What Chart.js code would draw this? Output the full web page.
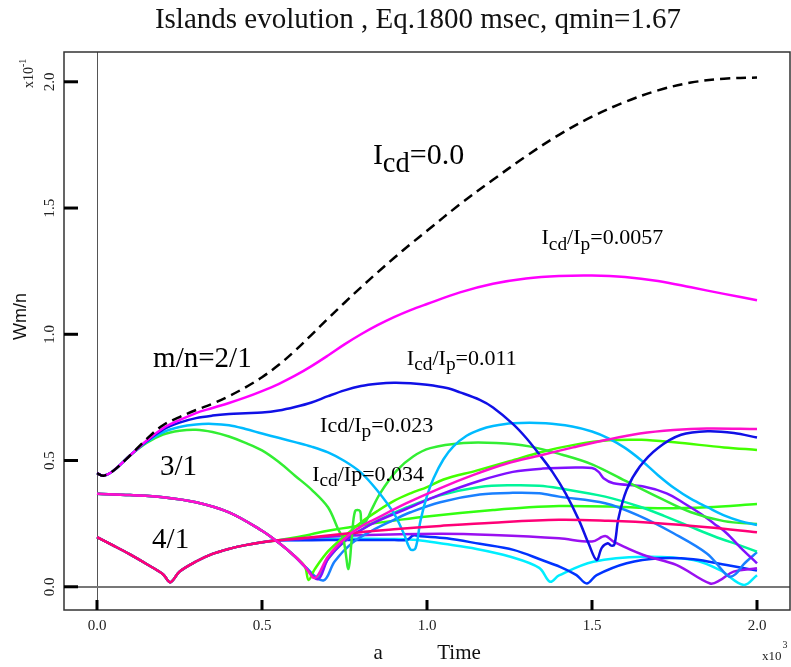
<!DOCTYPE html>
<html>
<head>
<meta charset="utf-8">
<title>Islands evolution</title>
<script src="https://cdn.jsdelivr.net/npm/chart.js@4.4.0/dist/chart.umd.min.js"></script>
<style>
  html, body { margin: 0; padding: 0; background: #fff; }
  #wrap { width: 791px; height: 667px; position: relative; }
</style>
</head>
<body>
<div id="wrap"><canvas id="chart"></canvas></div>
<script>
// time in units of 10^3, Wm/n in units of 10^-1

// m/n = 2/1
const t21_icd0 = [0, 0.02, 0.05, 0.1, 0.15, 0.2, 0.25, 0.3, 0.35, 0.4, 0.45, 0.5, 0.55, 0.6, 0.65, 0.7, 0.75, 0.8, 0.85, 0.9, 0.95, 1.0, 1.1, 1.2, 1.3, 1.4, 1.5, 1.6, 1.7, 1.8, 1.9, 2.0];
const w21_icd0 = [0.45, 0.44, 0.46, 0.52, 0.585, 0.64, 0.672, 0.70, 0.725, 0.755, 0.79, 0.83, 0.878, 0.935, 0.998, 1.062, 1.125, 1.186, 1.245, 1.302, 1.357, 1.41, 1.515, 1.612, 1.705, 1.79, 1.862, 1.92, 1.966, 1.997, 2.012, 2.017];

const t21_0057 = [0, 0.02, 0.05, 0.1, 0.15, 0.2, 0.25, 0.3, 0.35, 0.4, 0.45, 0.5, 0.55, 0.6, 0.65, 0.7, 0.75, 0.8, 0.85, 0.9, 0.95, 1.0, 1.1, 1.2, 1.3, 1.4, 1.5, 1.6, 1.7, 1.8, 1.9, 2.0];
const w21_0057 = [0.45, 0.44, 0.46, 0.52, 0.578, 0.628, 0.66, 0.688, 0.708, 0.728, 0.75, 0.775, 0.803, 0.836, 0.874, 0.916, 0.96, 1.0, 1.036, 1.068, 1.096, 1.12, 1.166, 1.2, 1.221, 1.231, 1.233, 1.227, 1.211, 1.186, 1.16, 1.135];

const t21_011 = [0, 0.02, 0.05, 0.1, 0.15, 0.2, 0.25, 0.3, 0.35, 0.4, 0.45, 0.5, 0.55, 0.6, 0.65, 0.7, 0.75, 0.8, 0.85, 0.9, 0.95, 1.0, 1.06, 1.1, 1.16, 1.2, 1.26, 1.3, 1.34, 1.38, 1.42, 1.46, 1.49, 1.514, 1.53, 1.548, 1.558, 1.568, 1.58, 1.605, 1.645, 1.7, 1.77, 1.85, 1.93, 2.0];
const w21_011 = [0.45, 0.44, 0.46, 0.52, 0.576, 0.622, 0.65, 0.668, 0.678, 0.684, 0.687, 0.69, 0.698, 0.712, 0.73, 0.755, 0.778, 0.795, 0.804, 0.808, 0.806, 0.80, 0.787, 0.77, 0.74, 0.71, 0.645, 0.59, 0.525, 0.455, 0.37, 0.265, 0.17, 0.106, 0.155, 0.172, 0.163, 0.168, 0.27, 0.384, 0.476, 0.55, 0.602, 0.616, 0.609, 0.591];

const t21_023 = [0, 0.02, 0.05, 0.1, 0.15, 0.2, 0.25, 0.3, 0.35, 0.4, 0.45, 0.5, 0.55, 0.6, 0.65, 0.7, 0.75, 0.8, 0.85, 0.9, 0.93, 0.95, 0.965, 0.98, 1.0, 1.02, 1.05, 1.08, 1.12, 1.16, 1.2, 1.26, 1.36, 1.44, 1.5, 1.55, 1.6, 1.65, 1.7, 1.75, 1.8, 1.85, 1.9, 1.95, 2.0];
const w21_023 = [0.45, 0.44, 0.46, 0.52, 0.573, 0.612, 0.633, 0.643, 0.645, 0.64, 0.625, 0.607, 0.59, 0.573, 0.555, 0.532, 0.498, 0.452, 0.38, 0.29, 0.21, 0.148, 0.152, 0.26, 0.36, 0.43, 0.505, 0.556, 0.598, 0.622, 0.637, 0.648, 0.648, 0.635, 0.615, 0.588, 0.55, 0.50, 0.442, 0.39, 0.348, 0.315, 0.283, 0.26, 0.245];

const t21_034 = [0, 0.02, 0.05, 0.1, 0.15, 0.2, 0.25, 0.3, 0.35, 0.4, 0.45, 0.5, 0.55, 0.6, 0.65, 0.7, 0.73, 0.747, 0.762, 0.772, 0.782, 0.797, 0.802, 0.815, 0.83, 0.858, 0.908, 0.958, 1.01, 1.11, 1.21, 1.31, 1.41, 1.5, 1.6, 1.7, 1.8, 1.9, 2.0];
const w21_034 = [0.45, 0.44, 0.46, 0.52, 0.57, 0.603, 0.618, 0.622, 0.613, 0.595, 0.57, 0.54, 0.495, 0.44, 0.385, 0.315, 0.23, 0.185, 0.07, 0.19, 0.30, 0.30, 0.252, 0.26, 0.30, 0.37, 0.46, 0.516, 0.549, 0.569, 0.569, 0.556, 0.523, 0.485, 0.42, 0.355, 0.295, 0.26, 0.249];

// m/n = 3/1, shared decay before the first minimum
const t31_head = [0, 0.1, 0.2, 0.3, 0.4, 0.5, 0.55, 0.6, 0.63];
const w31_head = [0.368, 0.363, 0.355, 0.335, 0.295, 0.222, 0.175, 0.12, 0.08];

const t31_a = [0.641, 0.66, 0.7, 0.75, 0.8, 0.85, 0.9, 0.95, 1.0, 1.05, 1.15, 1.25, 1.35, 1.45, 1.55, 1.65, 1.75, 1.9, 2.0];
const w31_a = [0.027, 0.07, 0.14, 0.2, 0.255, 0.3, 0.34, 0.37, 0.395, 0.425, 0.46, 0.497, 0.535, 0.563, 0.58, 0.582, 0.572, 0.552, 0.542];

const t31_b = [0.661, 0.7, 0.757, 0.808, 0.838, 0.938, 1.039, 1.141, 1.242, 1.342, 1.443, 1.544, 1.645, 1.747, 1.848, 2.0];
const w31_b = [0.035, 0.12, 0.198, 0.245, 0.265, 0.331, 0.39, 0.443, 0.488, 0.52, 0.552, 0.582, 0.607, 0.621, 0.627, 0.625];

const t31_c = [0.67, 0.7, 0.75, 0.8, 0.85, 0.94, 1.04, 1.16, 1.26, 1.35, 1.45, 1.5, 1.52, 1.535, 1.565, 1.656, 1.726, 1.78, 1.827, 1.87, 1.908, 1.95, 2.0];
const w31_c = [0.03, 0.11, 0.18, 0.225, 0.26, 0.31, 0.365, 0.42, 0.455, 0.468, 0.472, 0.47, 0.455, 0.43, 0.41, 0.397, 0.37, 0.33, 0.291, 0.25, 0.212, 0.155, 0.093];

const t31_d = [0.665, 0.7, 0.75, 0.8, 0.85, 0.94, 1.04, 1.16, 1.26, 1.34, 1.4, 1.54, 1.645, 1.72, 1.8, 1.87, 1.95, 2.0];
const w31_d = [0.035, 0.11, 0.18, 0.225, 0.262, 0.315, 0.362, 0.395, 0.402, 0.40, 0.39, 0.357, 0.317, 0.28, 0.237, 0.2, 0.163, 0.139];

const t31_e = [0.686, 0.72, 0.77, 0.83, 0.9, 0.95, 1.04, 1.16, 1.26, 1.34, 1.4, 1.54, 1.645, 1.747, 1.848, 1.895, 1.915, 1.935, 1.96, 2.0];
const w31_e = [0.025, 0.1, 0.17, 0.22, 0.265, 0.295, 0.335, 0.365, 0.372, 0.37, 0.357, 0.331, 0.28, 0.212, 0.132, 0.065, 0.04, 0.05, 0.09, 0.137];

// m/n = 4/1, shared part up to where the curves fan out
const t41_head = [0, 0.05, 0.1, 0.15, 0.2, 0.222, 0.25, 0.3, 0.35, 0.4, 0.45, 0.5, 0.55];
const w41_head = [0.197, 0.163, 0.128, 0.09, 0.05, 0.018, 0.06, 0.10, 0.13, 0.15, 0.165, 0.176, 0.184];

const t41_a = [0.6, 0.65, 0.7, 0.8, 0.9, 1.0, 1.1, 1.2, 1.3, 1.4, 1.55, 1.7, 1.85, 2.0];
const w41_a = [0.195, 0.208, 0.222, 0.243, 0.262, 0.278, 0.292, 0.304, 0.314, 0.32, 0.318, 0.311, 0.315, 0.328];

const t41_b = [0.6, 0.7, 0.8, 0.9, 1.04, 1.2, 1.4, 1.55, 1.7, 1.85, 2.0];
const w41_b = [0.19, 0.203, 0.216, 0.228, 0.241, 0.254, 0.265, 0.261, 0.252, 0.236, 0.216];

const t41_c = [0.6, 0.7, 0.8, 1.04, 1.2, 1.4, 1.5, 1.54, 1.565, 1.656, 1.757, 1.858, 1.888, 1.929, 2.0];
const w41_c = [0.188, 0.198, 0.204, 0.21, 0.205, 0.192, 0.179, 0.201, 0.179, 0.126, 0.086, 0.013, 0.026, 0.06, 0.073];

const t41_d = [0.6, 0.7, 0.8, 0.9, 0.94, 0.958, 0.98, 1.06, 1.16, 1.262, 1.35, 1.403, 1.453, 1.484, 1.514, 1.605, 1.706, 1.807, 1.908, 2.0];
const w41_d = [0.184, 0.185, 0.185, 0.185, 0.186, 0.203, 0.2, 0.192, 0.17, 0.146, 0.105, 0.079, 0.046, 0.013, 0.046, 0.093, 0.113, 0.109, 0.086, 0.064];

const t41_e = [0.6, 0.7, 0.8, 0.9, 0.97, 1.05, 1.15, 1.25, 1.34, 1.373, 1.4, 1.504, 1.656, 1.807, 1.888, 1.96, 2.0];
const w41_e = [0.185, 0.19, 0.19, 0.189, 0.185, 0.17, 0.15, 0.12, 0.075, 0.02, 0.045, 0.099, 0.119, 0.106, 0.066, 0.007, 0.046];

// axes
const xTicks = [0, 0.5, 1.0, 1.5, 2.0];
const yTicks = [0, 0.5, 1.0, 1.5, 2.0];
const tickLabel = (v) => v.toFixed(1);

// curve annotations, anchored in data units (left edge, baseline)
const notes = [
  { text: "I_{cd}=0.0", t: 0.836, w: 1.673, size: 30, sub: 0.95 },
  { text: "I_{cd}/I_{p}=0.0057", t: 1.347, w: 1.356, size: 22, sub: 0.88 },
  { text: "m/n=2/1", t: 0.170, w: 0.872, size: 29, sub: 0.88 },
  { text: "I_{cd}/I_{p}=0.011", t: 0.939, w: 0.880, size: 22, sub: 0.88 },
  { text: "Icd/I_{p}=0.023", t: 0.676, w: 0.614, size: 22, sub: 0.88 },
  { text: "I_{cd}/Ip=0.034", t: 0.652, w: 0.420, size: 22, sub: 0.88 },
  { text: "3/1", t: 0.191, w: 0.443, size: 29, sub: 0.88 },
  { text: "4/1", t: 0.167, w: 0.153, size: 29, sub: 0.88 },
];

const SERIF = '"Liberation Serif", "Times New Roman", serif';
const SANS = '"Liberation Sans", Arial, sans-serif';

const line = (label, t, w, color, dash) => ({
  label,
  data: t.map((v, i) => ({ x: v, y: w[i] })),
  borderColor: color,
  borderWidth: 2.5,
  borderDash: dash || [],
  pointRadius: 0,
  fill: false,
  tension: 0.35,
});

// first dataset ends up on top
const datasets = [
  line("2/1 Icd=0", t21_icd0, w21_icd0, "#000000", [10, 6]),
  line("2/1 0.0057", t21_0057, w21_0057, "#ff00ff"),
  line("3/1 b", t31_head.concat(t31_b), w31_head.concat(w31_b), "#ff10cc"),
  line("4/1 b", t41_head.concat(t41_b), w41_head.concat(w41_b), "#ff0077"),
  line("2/1 0.011", t21_011, w21_011, "#1010e6"),
  line("2/1 0.023", t21_023, w21_023, "#00bbff"),
  line("2/1 0.034", t21_034, w21_034, "#33ee33"),
  line("3/1 c", t31_head.concat(t31_c), w31_head.concat(w31_c), "#8010ff"),
  line("3/1 a", t31_head.concat(t31_a), w31_head.concat(w31_a), "#44ff00"),
  line("3/1 d", t31_head.concat(t31_d), w31_head.concat(w31_d), "#00f59a"),
  line("3/1 e", t31_head.concat(t31_e), w31_head.concat(w31_e), "#1a80ff"),
  line("4/1 c", t41_head.concat(t41_c), w41_head.concat(w41_c), "#9a10f0"),
  line("4/1 a", t41_head.concat(t41_a), w41_head.concat(w41_a), "#33ff11"),
  line("4/1 d", t41_head.concat(t41_d), w41_head.concat(w41_d), "#0033ff"),
  line("4/1 e", t41_head.concat(t41_e), w41_head.concat(w41_e), "#00eeff"),
];

// text with _{...} subscripts
function drawRich(ctx, text, x, y, size, subScale) {
  const parts = text.split(/(_\{[^}]*\})/).filter((s) => s.length);
  let cx = x;
  for (const p of parts) {
    const sub = p.startsWith("_{");
    const s = sub ? p.slice(2, -1) : p;
    const fs = sub ? size * subScale : size;
    ctx.font = fs + "px " + SERIF;
    ctx.fillText(s, cx, y + (sub ? size * 0.26 : 0));
    cx += ctx.measureText(s).width;
  }
}

const decor = {
  id: "decor",
  beforeDatasetsDraw(chart) {
    const { ctx, chartArea: a, scales: { x, y } } = chart;
    ctx.save();
    const x0 = Math.round(x.getPixelForValue(0)) + 0.5;
    ctx.strokeStyle = "#555";
    ctx.lineWidth = 1;
    ctx.beginPath();
    ctx.moveTo(x0, a.top);
    ctx.lineTo(x0, a.bottom);
    ctx.stroke();
    const y0 = Math.round(y.getPixelForValue(0));
    ctx.strokeStyle = "#777";
    ctx.lineWidth = 2;
    ctx.beginPath();
    ctx.moveTo(a.left, y0);
    ctx.lineTo(a.right, y0);
    ctx.stroke();
    ctx.restore();
  },
  afterDraw(chart) {
    const { ctx, chartArea: a, scales: { x, y } } = chart;
    ctx.save();

    // frame
    ctx.strokeStyle = "#333";
    ctx.lineWidth = 1.5;
    ctx.strokeRect(a.left, a.top, a.right - a.left, a.bottom - a.top);

    // tick marks
    ctx.strokeStyle = "#000";
    ctx.lineWidth = 3;
    for (const v of yTicks) {
      const py = y.getPixelForValue(v);
      ctx.beginPath();
      ctx.moveTo(a.left, py);
      ctx.lineTo(a.left + 14, py);
      ctx.stroke();
    }
    for (const v of xTicks) {
      const px = x.getPixelForValue(v);
      ctx.beginPath();
      ctx.moveTo(px, a.bottom);
      ctx.lineTo(px, a.bottom - 10);
      ctx.stroke();
    }

    // tick labels
    ctx.fillStyle = "#222";
    ctx.font = "15px " + SERIF;
    ctx.textAlign = "center";
    ctx.textBaseline = "middle";
    for (const v of xTicks) {
      ctx.fillText(tickLabel(v), x.getPixelForValue(v), a.bottom + 16);
    }
    for (const v of yTicks) {
      ctx.save();
      ctx.translate(a.left - 14, y.getPixelForValue(v));
      ctx.rotate(-Math.PI / 2);
      ctx.fillText(tickLabel(v), 0, 0);
      ctx.restore();
    }

    // scale factors
    ctx.textAlign = "left";
    ctx.textBaseline = "alphabetic";
    ctx.save();
    ctx.translate(a.left - 31, a.top + 36);
    ctx.rotate(-Math.PI / 2);
    ctx.font = "14px " + SERIF;
    ctx.fillText("x10", 0, 0);
    const wy = ctx.measureText("x10").width;
    ctx.font = "10px " + SERIF;
    ctx.fillText("-1", wy, -7);
    ctx.restore();

    ctx.font = "13px " + SERIF;
    ctx.fillText("x10", a.right - 28, a.bottom + 50);
    const wx = ctx.measureText("x10").width;
    ctx.font = "10px " + SERIF;
    ctx.fillText("3", a.right - 28 + wx + 1, a.bottom + 38);

    // axis titles
    ctx.fillStyle = "#111";
    ctx.font = "21px " + SERIF;
    ctx.textAlign = "center";
    ctx.fillText("a", x.getPixelForValue(0.852), a.bottom + 49);
    ctx.fillText("Time", x.getPixelForValue(1.097), a.bottom + 49);
    ctx.save();
    ctx.translate(26, y.getPixelForValue(1.07));
    ctx.rotate(-Math.PI / 2);
    ctx.font = "18px " + SANS;
    ctx.fillText("Wm/n", 0, 0);
    ctx.restore();

    // title
    ctx.font = "29px " + SERIF;
    ctx.fillText("Islands evolution , Eq.1800 msec, qmin=1.67", 418, 28);

    // curve annotations
    ctx.textAlign = "left";
    ctx.fillStyle = "#000";
    for (const n of notes) {
      drawRich(ctx, n.text, x.getPixelForValue(n.t), y.getPixelForValue(n.w), n.size, n.sub);
    }
    ctx.restore();
  },
};

new Chart(document.getElementById("chart"), {
  type: "line",
  data: { datasets },
  options: {
    responsive: true,
    maintainAspectRatio: false,
    animation: false,
    layout: { padding: { left: 64, top: 52, right: 1, bottom: 57 } },
    plugins: { legend: { display: false }, tooltip: { enabled: false } },
    scales: {
      x: { type: "linear", min: -0.1, max: 2.1, display: false },
      y: { type: "linear", min: -0.092, max: 2.118, display: false },
    },
  },
  plugins: [decor],
});
</script>
</body>
</html>
